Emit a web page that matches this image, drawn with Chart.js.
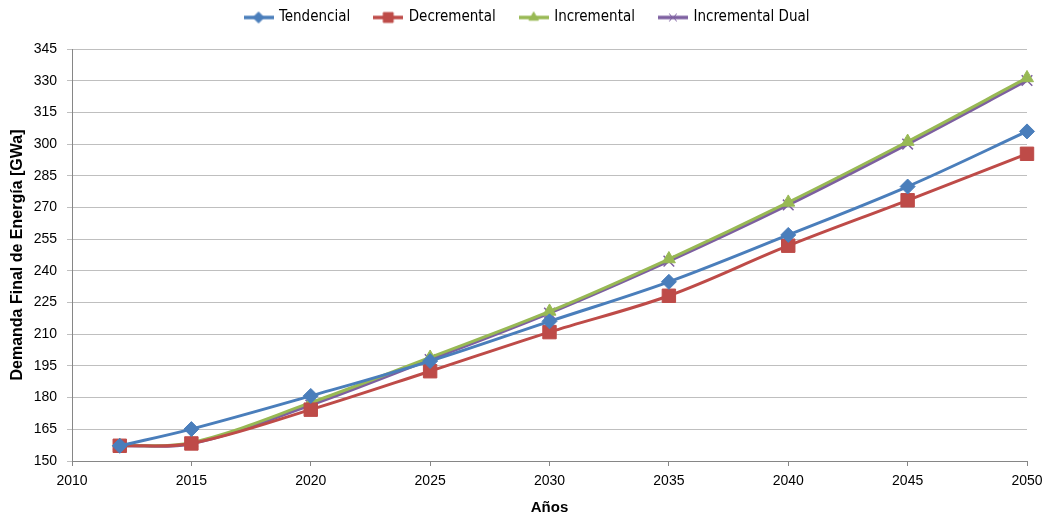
<!DOCTYPE html>
<html>
<head>
<meta charset="utf-8">
<script src="https://cdn.jsdelivr.net/npm/chart.js@4/dist/chart.umd.min.js"></script>
<style>
  html, body { margin: 0; padding: 0; background: #fff; }
  #wrap { width: 1047px; height: 517px; position: relative; }
</style>
</head>
<body>
<div id="wrap"><canvas id="demanda"></canvas></div>
<script>
// data
var years = [2012, 2015, 2020, 2025, 2030, 2035, 2040, 2045, 2050];
var tendencial = [157.2, 165.1, 180.8, 197.3, 216.1, 234.8, 257.0, 279.9, 306.0];
var decremental = [157.2, 158.3, 174.3, 192.5, 211.0, 228.2, 251.9, 273.4, 295.4];
var incremental = [157.2, 158.7, 177.6, 199.0, 220.8, 245.6, 272.4, 301.2, 331.3];
var incrementalDual = [157.2, 158.2, 176.5, 198.0, 220.0, 244.6, 271.2, 300.0, 330.1];
var seriesNames = ['Tendencial', 'Decremental', 'Incremental', 'Incremental Dual'];
var yTicks = { min: 150, max: 345, step: 15 };
var xTicks = { min: 2010, max: 2050, step: 5 };

var colors = ['#4A7EBB', '#BE4B48', '#98B954', '#7D5FA0'];
var markers = ['rectRot', 'rect', 'triangle', 'crossRot'];
var sizes = [7.5, 9.5, 7.5, 7.5];

function toPoints(vals) {
    return vals.map(function (v, i) { return { x: years[i], y: v }; });
}

// little legend icon: line with marker on it
function legendIcon(color, marker) {
    var c = document.createElement('canvas');
    c.width = 30; c.height = 14;
    var g = c.getContext('2d');
    g.strokeStyle = color;
    g.fillStyle = color;
    g.lineWidth = 3.5;
    g.beginPath(); g.moveTo(0, 7); g.lineTo(30, 7); g.stroke();
    g.lineWidth = 1;
    var r = marker == 'rect' ? 7 : 5.5;
    Chart.helpers.drawPoint(g, { pointStyle: marker, radius: r, borderWidth: 1 }, 15, 7);
    return c;
}

var allData = [tendencial, decremental, incremental, incrementalDual];
var datasets = allData.map(function (vals, i) {
    return {
        label: seriesNames[i],
        data: toPoints(vals),
        borderColor: colors[i],
        backgroundColor: colors[i],
        borderWidth: 3,
        tension: 0.35,
        clip: false,
        pointStyle: markers[i],
        pointRadius: sizes[i],
        pointBorderWidth: i == 3 ? 1.5 : 1,
        pointBorderColor: colors[i],
        pointBackgroundColor: colors[i]
    };
});

// legend sits higher than chart.js puts it, chart area starts at y=49
var legendSpot = {
    id: 'legendSpot',
    beforeInit: function (chart) {
        var fit = chart.legend.fit;
        chart.legend.fit = function () {
            fit.bind(chart.legend)();
            this.height = 45;
        };
    },
    afterLayout: function (chart) {
        chart.legend.top = -15;
        chart.legend.left += 12;
        chart.legend.right += 12;
    }
};

var ctx = document.getElementById('demanda').getContext('2d');
new Chart(ctx, {
    type: 'line',
    data: { datasets: datasets },
    plugins: [legendSpot],
    options: {
        responsive: true,
        maintainAspectRatio: false,
        animation: false,
        layout: { padding: { left: 4, right: 20, top: 4, bottom: 0 } },
        plugins: {
            tooltip: { enabled: false },
            legend: {
                position: 'top',
                labels: {
                    usePointStyle: true,
                    pointStyleWidth: 26,
                    boxHeight: 14,
                    padding: 25,
                    color: '#000',
                    font: { family: 'Liberation Sans Narrow, DejaVu Sans Condensed, Liberation Sans', size: 15 },
                    generateLabels: function (chart) {
                        return chart.data.datasets.map(function (ds, i) {
                            return {
                                text: ds.label,
                                pointStyle: legendIcon(colors[i], markers[i]),
                                datasetIndex: i,
                                fontColor: '#000',
                                lineWidth: 0,
                                strokeStyle: colors[i],
                                fillStyle: colors[i]
                            };
                        });
                    }
                }
            }
        },
        scales: {
            x: {
                type: 'linear',
                min: xTicks.min,
                max: xTicks.max,
                ticks: { stepSize: xTicks.step, color: '#000', padding: 7,
                    font: { family: 'Liberation Sans', size: 14 },
                    callback: function (v) { return String(v); } },
                grid: { drawOnChartArea: false, color: '#868686', tickLength: 5 },
                border: { color: '#868686' },
                title: { display: true, text: 'Años', color: '#000',
                    font: { family: 'Liberation Sans', size: 15, weight: 'bold' }, padding: { top: 2, bottom: 0 } },
                afterFit: function (axis) {
                    axis.height = 56;
                    axis.paddingRight = 0;
                    axis.paddingLeft = 0;
                }
            },
            y: {
                min: yTicks.min,
                max: yTicks.max,
                ticks: { stepSize: yTicks.step, color: '#000', padding: 10,
                    font: { family: 'Liberation Sans', size: 14 } },
                grid: { color: '#BFBFBF', tickLength: 5, lineWidth: 1 },
                border: { color: '#868686' },
                title: { display: true, text: 'Demanda Final de Energía [GWa]', color: '#000',
                    font: { family: 'Liberation Sans', size: 16, weight: 'bold' }, padding: { top: 4, bottom: 2 } },
                afterFit: function (axis) { axis.width = 68; }
            }
        }
    }
});
</script>
</body>
</html>
